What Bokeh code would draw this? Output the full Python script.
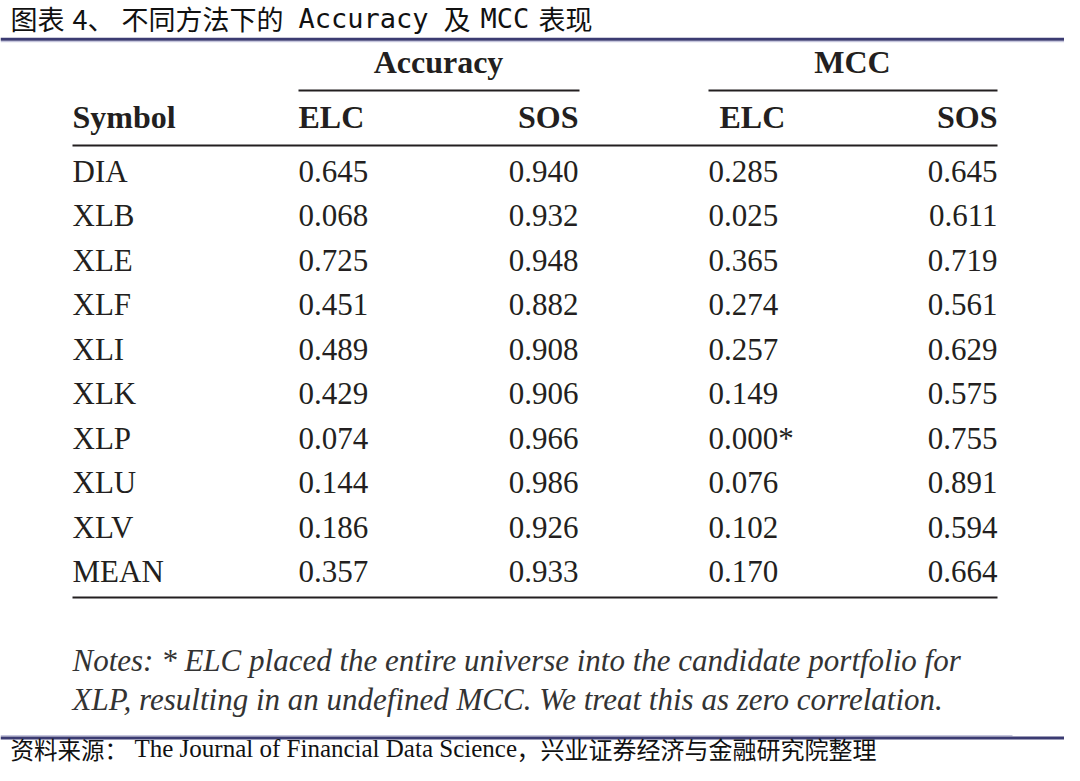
from bokeh.plotting import figure
from bokeh.models import Range1d, ColumnDataSource
from bokeh.core.properties import value
from bokeh.embed import file_html
from bokeh.resources import INLINE

# ---------------- data ----------------
symbols = ["DIA", "XLB", "XLE", "XLF", "XLI", "XLK", "XLP", "XLU", "XLV", "MEAN"]
acc_elc = [0.645, 0.068, 0.725, 0.451, 0.489, 0.429, 0.074, 0.144, 0.186, 0.357]
acc_sos = [0.940, 0.932, 0.948, 0.882, 0.908, 0.906, 0.966, 0.986, 0.926, 0.933]
mcc_elc = [0.285, 0.025, 0.365, 0.274, 0.257, 0.149, 0.000, 0.076, 0.102, 0.170]
mcc_sos = [0.645, 0.611, 0.719, 0.561, 0.629, 0.575, 0.755, 0.891, 0.594, 0.664]
mcc_elc_flag = ["", "", "", "", "", "", "*", "", "", ""]
group_labels = ["Accuracy", "MCC"]
method_labels = ["ELC", "SOS"]
first_col_label = "Symbol"
notes = ["Notes: * ELC placed the entire universe into the candidate portfolio for",
         "XLP, resulting in an undefined MCC. We treat this as zero correlation."]

# ---------------- layout ----------------
W, H = 1064, 765
SERIF = value("Liberation Serif")
CJK = value("Noto Sans CJK SC")
MONO = value("DejaVu Sans Mono")
INK = "#231f20"
NAVY = "#3b3b72"
LAV = "#b9b9d6"

p = figure(width=W, height=H, x_range=Range1d(0, W), y_range=Range1d(H, 0),
           output_backend="svg", toolbar_location=None, min_border=0,
           x_axis_location=None, y_axis_location=None)
p.grid.visible = False
p.outline_line_color = None
p.background_fill_color = "white"
p.border_fill_color = "white"

# title
title_parts = [
    (10, "图表", CJK, "27px"),
    (72, "4、", CJK, "27px"),
    (121, "不同方法下的", CJK, "27px"),
    (298, "Accuracy", MONO, "27px"),
    (443, "及", CJK, "27px"),
    (480, "MCC", MONO, "27px"),
    (538, "表现", CJK, "27px"),
]
for x, t, f, s in title_parts:
    p.text(x=[x], y=[18], text=[t], text_font=f, text_font_size=s,
           text_baseline="middle", text_align="left", text_color="#111111")

# top and bottom decorative rules
p.segment(x0=[0], y0=[38.8], x1=[W], y1=[38.8], line_color=NAVY, line_width=3)
p.segment(x0=[0], y0=[41.2], x1=[W], y1=[41.2], line_color=LAV, line_width=1)
p.segment(x0=[0], y0=[735.2], x1=[1012], y1=[735.2], line_color=LAV, line_width=1)
p.segment(x0=[0], y0=[737.5], x1=[W], y1=[737.5], line_color=NAVY, line_width=3)

# column positions
x_sym = 72
x_acc_elc, x_acc_sos = 298, 578
x_mcc_elc, x_mcc_sos = 708, 997

# group headers
p.text(x=[438, 852], y=[61.5, 61.5], text=group_labels, text_font=SERIF,
       text_font_size="32px", text_font_style="bold", text_baseline="middle",
       text_align="center", text_color=INK)
p.segment(x0=[298, 708], y0=[90, 90], x1=[579, 997], y1=[90, 90],
          line_color=INK, line_width=2.2)

# sub headers
hdr = dict(text_font=SERIF, text_font_size="32px", text_font_style="bold",
           text_baseline="middle", text_color=INK)
p.text(x=[x_sym], y=[116], text=[first_col_label], text_align="left", **hdr)
p.text(x=[x_acc_elc, 719], y=[116, 116], text=[method_labels[0]] * 2, text_align="left", **hdr)
p.text(x=[x_acc_sos, x_mcc_sos], y=[116, 116], text=[method_labels[1]] * 2,
       text_align="right", **hdr)
p.segment(x0=[72], y0=[145], x1=[997], y1=[145], line_color=INK, line_width=2.2)

# body rows
row_y0, row_step = 170.5, 44.5
ys = [row_y0 + i * row_step for i in range(len(symbols))]
src = ColumnDataSource(dict(
    y=ys,
    sym=symbols,
    ae=["%.3f" % v for v in acc_elc],
    aso=["%.3f" % v for v in acc_sos],
    me=["%.3f%s" % (v, f) for v, f in zip(mcc_elc, mcc_elc_flag)],
    ms=["%.3f" % v for v in mcc_sos],
))
common = dict(source=src, y="y", text_font=SERIF, text_font_size="31px",
              text_baseline="middle", text_color=INK)
p.text(x=x_sym, text="sym", text_align="left", **common)
p.text(x=x_acc_elc, text="ae", text_align="left", **common)
p.text(x=x_acc_sos, text="aso", text_align="right", **common)
p.text(x=x_mcc_elc, text="me", text_align="left", **common)
p.text(x=x_mcc_sos, text="ms", text_align="right", **common)

p.segment(x0=[72], y0=[597], x1=[997], y1=[597], line_color=INK, line_width=2.2)

# notes
p.text(x=[72, 72], y=[660, 699], text=notes, text_font=SERIF, text_font_size="31px",
       text_font_style="italic", text_baseline="middle", text_align="left", text_color="#333333")

# source footer
foot_parts = [
    (10, "资料来源：", CJK, "23.5px"),
    (134, "The Journal of Financial Data Science", SERIF, "25px"),
    (516, "，兴业证券经济与金融研究院整理", CJK, "24px"),
]
for x, t, f, s in foot_parts:
    p.text(x=[x], y=[748], text=[t], text_font=f, text_font_size=s,
           text_baseline="middle", text_align="left", text_color="#111111")

open("out.html", "w").write(file_html(p, INLINE))
